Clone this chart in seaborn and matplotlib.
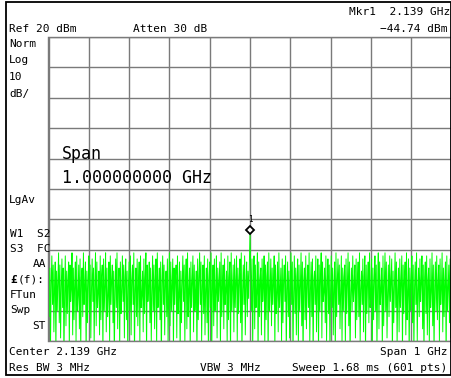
import numpy as np
import pandas as pd
import matplotlib
matplotlib.use("Agg")
import matplotlib.pyplot as plt
import matplotlib.transforms as mtransforms
from matplotlib.patches import Rectangle
import seaborn as sns

# Sweep settings
center_ghz = 2.139
span_ghz = 1.0
ref_level = 20
db_per_div = 10
n_points = 601

# Trace amplitude (dBm), 601 sweep points; point 300 is the marker peak
trace_dbm = [
    -53, -72, -56, -81, -61, -52, -68, -55, -77, -63, -54, -84, -57, -70, -60, -51, -74, -55, -79, -62,
    -53, -69, -56, -86, -64, -52, -75, -57, -71, -60, -54, -82, -55, -67, -63, -51, -78, -56, -73, -61,
    -54, -80, -52, -70, -65, -55, -76, -53, -83, -59, -56, -72, -51, -68, -62, -54, -85, -57, -74, -60,
    -52, -71, -55, -79, -63, -53, -67, -56, -81, -61, -51, -75, -54, -69, -64, -57, -78, -52, -73, -59,
    -55, -84, -53, -70, -62, -51, -77, -56, -72, -65, -54, -80, -52, -68, -60, -55, -74, -57, -86, -63,
    -53, -69, -51, -76, -61, -56, -82, -54, -71, -64, -52, -67, -55, -79, -59, -53, -73, -57, -83, -62,
    -54, -70, -52, -78, -60, -55, -68, -51, -85, -63, -56, -72, -53, -75, -61, -54, -81, -52, -69, -65,
    -57, -77, -53, -71, -59, -51, -84, -55, -67, -62, -54, -74, -56, -80, -64, -52, -70, -55, -76, -60,
    -53, -82, -51, -69, -63, -56, -73, -54, -87, -61, -52, -68, -55, -78, -60, -57, -72, -53, -80, -64,
    -51, -75, -54, -70, -62, -53, -83, -56, -68, -59, -55, -79, -52, -71, -65, -54, -86, -57, -74, -61,
    -52, -67, -55, -81, -60, -53, -76, -51, -72, -63, -56, -84, -54, -69, -61, -52, -77, -55, -70, -64,
    -57, -85, -53, -73, -59, -51, -68, -54, -80, -62, -55, -71, -52, -78, -63, -56, -74, -53, -82, -60,
    -54, -69, -51, -86, -61, -55, -75, -53, -70, -64, -52, -79, -56, -67, -60, -54, -83, -51, -72, -62,
    -55, -76, -53, -68, -63, -57, -81, -52, -73, -59, -54, -85, -51, -70, -62, -55, -77, -53, -69, -61,
    -52, -80, -56, -71, -60, -53, -74, -51, -84, -63, -55, -68, -52, -78, -61, -54, -72, -57, -66, -55,
    -44.74,
    -56, -70, -53, -82, -61, -52, -76, -55, -69, -64, -51, -85, -54, -72, -60, -56, -78, -53, -67, -62,
    -52, -81, -55, -73, -59, -54, -86, -51, -70, -63, -53, -75, -56, -68, -61, -52, -83, -55, -71, -64,
    -54, -77, -51, -69, -62, -56, -80, -53, -74, -60, -55, -67, -52, -84, -63, -54, -72, -57, -79, -61,
    -51, -68, -54, -85, -64, -52, -71, -56, -78, -59, -53, -82, -55, -70, -62, -51, -75, -54, -87, -60,
    -56, -73, -52, -76, -61, -55, -69, -51, -81, -63, -54, -72, -53, -86, -60, -57, -68, -52, -77, -62,
    -53, -84, -55, -70, -59, -51, -79, -54, -67, -64, -56, -74, -52, -80, -61, -53, -71, -55, -83, -63,
    -52, -69, -56, -78, -62, -54, -85, -51, -72, -60, -53, -68, -55, -76, -63, -52, -81, -56, -70, -59,
    -55, -82, -53, -71, -61, -51, -75, -54, -86, -64, -56, -70, -52, -67, -62, -55, -79, -53, -73, -60,
    -54, -72, -51, -80, -63, -57, -68, -53, -77, -59, -52, -84, -55, -71, -61, -54, -74, -51, -69, -64,
    -53, -86, -56, -73, -60, -52, -70, -55, -82, -62, -51, -76, -54, -68, -63, -56, -83, -52, -75, -61,
    -51, -70, -54, -79, -64, -55, -72, -52, -67, -60, -53, -85, -57, -74, -62, -51, -69, -54, -81, -63,
    -56, -77, -53, -69, -61, -52, -84, -55, -71, -59, -54, -78, -51, -73, -64, -53, -86, -56, -70, -60,
    -52, -74, -55, -83, -62, -54, -68, -51, -80, -63, -56, -72, -53, -67, -61, -52, -76, -55, -85, -59,
    -54, -71, -52, -78, -60, -56, -81, -53, -69, -64, -51, -75, -55, -84, -62, -54, -70, -52, -73, -61,
    -55, -80, -53, -68, -63, -51, -77, -56, -72, -60, -54, -86, -52, -70, -62, -55, -74, -53, -79, -58,
]
marker_ghz = 2.139
marker_dbm = -44.74
assert len(trace_dbm) == n_points

freq_ghz = np.linspace(center_ghz - span_ghz / 2, center_ghz + span_ghz / 2, n_points)
df = pd.DataFrame({"freq": freq_ghz, "level": trace_dbm})

W, H = 452, 378
sns.set_style("white")
plt.rcParams["font.family"] = ["DejaVu Sans Mono"]

fig = plt.figure(figsize=(W / 100, H / 100), dpi=100)
fig.patch.set_facecolor("white")

# graticule area in pixel coordinates
gx0, gx1, gy0, gy1 = 48.5, 451.5, 37, 341
ax = fig.add_axes([gx0 / W, 1 - gy1 / H, (gx1 - gx0) / W, (gy1 - gy0) / H])
ax.set_facecolor("white")

x_lo, x_hi = freq_ghz[0], freq_ghz[-1]
y_hi = ref_level
y_lo = ref_level - 10 * db_per_div
ax.set_xlim(x_lo, x_hi)
ax.set_ylim(y_lo, y_hi)
ax.set_xticks(np.linspace(x_lo, x_hi, 11))
ax.set_yticks(np.arange(y_lo, y_hi + 1, db_per_div))
ax.tick_params(length=0, labelbottom=False, labelleft=False)
ax.grid(True, color="#7a7a7a", linewidth=1.0)
ax.set_axisbelow(True)
for sp in ax.spines.values():
    sp.set_color("#7a7a7a")
    sp.set_linewidth(1.0)

sns.lineplot(data=df, x="freq", y="level", ax=ax, color="#00ff00",
             linewidth=0.7, estimator=None, legend=False)
ax.set_xlabel("")
ax.set_ylabel("")

# marker 1 drawn slightly above the peak
mk_tr = mtransforms.offset_copy(ax.transData, fig=fig, x=0, y=4, units="dots")
ax.plot([marker_ghz], [marker_dbm], marker="D", markersize=4.5, mfc="white",
        mec="black", mew=1.3, transform=mk_tr, clip_on=False, zorder=5)
lbl_tr = mtransforms.offset_copy(ax.transData, fig=fig, x=0, y=14, units="dots")
ax.text(marker_ghz, marker_dbm, "1", transform=lbl_tr, ha="center", va="center",
        fontsize=5.5, color="black", family="DejaVu Sans Mono")

# outer frame
fig.add_artist(Rectangle((6.5 / W, 1 - 375 / H), (451 - 6.5) / W, (375 - 1.5) / H,
                         transform=fig.transFigure, fill=False, edgecolor="black",
                         linewidth=1.3))


def put(x, y, s, ha="left", size=8, **kw):
    fig.text(x / W, 1 - y / H, s, ha=ha, va="baseline", fontsize=size,
             color="black", family="DejaVu Sans Mono", **kw)


put(450, 15, "Mkr1  2.139 GHz", ha="right")
put(448, 31.7, "\u221244.74 dBm", ha="right")
put(9, 31.7, "Ref 20 dBm")
put(133, 31.7, "Atten 30 dB")

put(9, 46.7, "Norm")
put(9, 63, "Log")
put(9, 80, "10")
put(9, 96.5, "dB/")
put(9, 203, "LgAv")
put(10, 237, "W1  S2")
put(10, 251.5, "S3  FC")
put(46, 267, "AA", ha="right")
put(10, 283, "\u00a3", fontweight="bold")
put(17.5, 283, "(f):")
put(10, 297.5, "FTun")
put(10, 313, "Swp")
put(46, 329, "ST", ha="right")

put(9, 355, "Center 2.139 GHz")
put(448, 355, "Span 1 GHz", ha="right")
put(9, 371, "Res BW 3 MHz")
put(200, 371, "VBW 3 MHz")
put(447, 371, "Sweep 1.68 ms (601 pts)", ha="right")

put(62, 159.3, "Span", size=12)
put(62, 183.3, "1.000000000 GHz", size=12)

fig.savefig("out.png", dpi=100, facecolor="white")
